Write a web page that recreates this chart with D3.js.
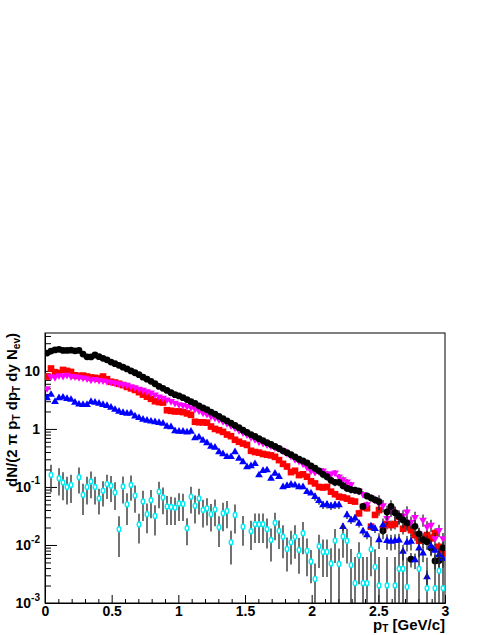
<!DOCTYPE html>
<html>
<head>
<meta charset="utf-8">
<script src="https://cdn.jsdelivr.net/npm/d3@7"></script>
<style>
  body { margin: 0; background: #fff; }
  svg { display: block; font-family: "Liberation Sans", Arial, Helvetica, sans-serif; font-weight: bold; }
</style>
</head>
<body>
<svg id="chart"></svg>
<script>
// histogram: 100 bins of 0.03 GeV/c between 0 and 3
const ptBinWidth = 0.03;
const nBins = 100;
const ptCenters = d3.range(nBins).map((i) => +(ptBinWidth * (i + 0.5)).toFixed(3));

const blackVals = [
  20.3, 22, 23, 23.5, 22.5, 22.5, 22.8, 22.2, 22.5, 19.5,
  17.5, 17.4, 18.8, 17.6, 16.5, 15.5, 14.2, 13.3, 12.5, 11.6,
  10.8, 10, 9.3, 8.6, 7.8, 7.2, 6.6, 6.0, 5.4, 5.0,
  4.6, 4.2, 3.9, 3.7, 3.45, 3.2, 2.95, 2.75, 2.5, 2.3,
  2.15, 1.95, 1.8, 1.65, 1.5, 1.38, 1.26, 1.15, 1.05, 0.95,
  0.87, 0.8, 0.74, 0.68, 0.63, 0.58, 0.54, 0.5, 0.46, 0.42,
  0.39, 0.36, 0.33, 0.3, 0.28, 0.26, 0.23, 0.21, 0.19, 0.165,
  0.15, 0.13, 0.12, 0.12, 0.105, 0.095, 0.09, 0.088, 0.085, 0.046,
  0.07, 0.065, 0.06, 0.056, 0.0175, 0.037, 0.046, 0.036, 0.031, 0.027,
  0.024, 0.0057, 0.021, 0.0155, 0.0124, 0.0114, 0.0089, 0.0053, 0.0054, 0.0089
];

const redVals = [
  8.0, 11, 9.5, 9.2, 10.4, 10, 9.6, 8.4, 8.2, 8.3,
  8.0, 7.7, 7.6, 7.4, 8.0, 7.2, 6.5, 6.3, 6.0, 5.7,
  5.3, 5.0, 4.7, 4.3, 3.9, 3.6, 3.3, 3.0, 2.9, 2.85,
  2.1, 2.05, 2.0, 2.0, 1.95, 1.85, 1.75, 1.33, 1.3, 1.3,
  1.28, 1.1, 1.0, 0.95, 0.89, 0.8, 0.75, 0.65, 0.6, 0.56,
  0.53, 0.42, 0.4, 0.39, 0.37, 0.36, 0.35, 0.33, 0.29, 0.25,
  0.225, 0.18, 0.19, 0.16, 0.165, 0.15, 0.125, 0.115, 0.1, 0.098,
  0.1, 0.083, 0.075, 0.068, 0.066, 0.063, 0.058, 0.056, 0.035, 0.045,
  0.043, 0.0207, 0.033, 0.04, 0.0185, 0.023, 0.022, 0.023, 0.031, 0.019,
  0.023, 0.018, 0.0148, 0.0118, 0.0122, 0.0148, 0.013, 0.016, 0.0093, 0.0072
];

const magentaVals = [
  5.0, 8.0, 7.8, 8.3, 8.2, 8.5, 8.1, 8.0, 7.8, 7.6,
  7.4, 7.0, 7.2, 6.9, 6.8, 6.6, 6.4, 6.2, 6.0, 5.9,
  5.7, 5.4, 5.2, 4.9, 4.7, 4.4, 4.2, 3.9, 3.6, 3.4,
  3.2, 3.0, 2.8, 2.65, 2.55, 2.45, 2.35, 2.2, 2.05, 1.9,
  1.8, 1.65, 1.55, 1.45, 1.35, 1.25, 1.15, 1.05, 0.95, 0.87,
  0.8, 0.72, 0.66, 0.6, 0.57, 0.54, 0.51, 0.48, 0.46, 0.42,
  0.38, 0.34, 0.3, 0.28, 0.25, 0.22, 0.19, 0.18, 0.185, 0.19,
  0.17, 0.165, 0.175, 0.15, 0.135, 0.123, 0.11, 0.089, 0.085, 0.075,
  0.05, 0.065, 0.06, 0.052, 0.048, 0.029, 0.04, 0.036, 0.03, 0.032,
  0.0375, 0.025, 0.03, 0.0155, 0.027, 0.0207, 0.022, 0.013, 0.018, 0.013
];

const blueVals = [
  3.4, 3.9, 2.95, 3.4, 3.5, 3.3, 3.2, 2.85, 2.65, 2.6,
  2.6, 2.95, 2.85, 2.75, 2.6, 2.5, 2.35, 2.15, 2.0, 1.9,
  1.85, 1.86, 1.65, 1.55, 1.45, 1.4, 1.35, 1.32, 1.28, 1.24,
  1.1, 1.08, 0.92, 0.9, 0.9, 0.88, 0.9, 0.7, 0.72, 0.63,
  0.57, 0.5, 0.48, 0.4, 0.37, 0.33, 0.33, 0.4, 0.31, 0.27,
  0.22, 0.23, 0.25, 0.16, 0.19, 0.195, 0.14, 0.17, 0.15, 0.1,
  0.105, 0.11, 0.107, 0.1, 0.1, 0.083, 0.078, 0.068, 0.058, 0.049,
  0.05, 0.047, 0.049, 0.049, 0.0207, 0.033, 0.027, 0.029, 0.0235, 0.0172,
  0.0148, 0.021, 0.019, 0.0122, 0.022, 0.0118, 0.0115, 0.0118, 0.012, 0.0077,
  0.011, 0.0115, 0.0055, 0.0088, 0.0072, 0.0028, 0.0095, 0.008, 0.0068, 0.0058
];

const cyanVals = [
  null, 0.161, null, 0.141, 0.119, 0.1, 0.108, null, 0.147, 0.073,
  0.1, 0.124, 0.1, 0.0635, 0.086, 0.112, 0.105, 0.08, 0.0187, 0.102,
  0.05, 0.108, 0.071, 0.0226, 0.056, 0.034, 0.059, 0.0316, 0.083, 0.066,
  0.046, 0.045, 0.044, 0.052, 0.051, 0.0194, 0.068, 0.0475, 0.0635, 0.04,
  0.0427, 0.034, 0.041, 0.0202, 0.0352, 0.0385, 0.0111, 0.0328, null, 0.0207,
  null, 0.0172, 0.0228, 0.0228, 0.0228, 0.0187, 0.0122, 0.0241, 0.0175, 0.0139,
  0.0085, 0.0111, 0.0138, 0.0082, 0.0159, 0.0079, 0.0052, 0.0026, 0.0095, 0.0076,
  0.0076, 0.0048, 0.0119, 0.0047, 0.014, 0.0118, 0.0045, 0.0022, 0.0066, 0.0022,
  0.0022, 0.0084, 0.0042, 0.002, null, 0.002, null, 0.002, 0.0039, 0.0039,
  0.0019, null, null, 0.0039, null, 0.0018, null, 0.0018, 0.0036, 0.0018
];

const cyanErrs = [
  null, 0.08, null, 0.07, 0.06, 0.05, 0.055, null, 0.07, 0.04,
  0.05, 0.06, 0.05, 0.03, 0.04, 0.05, 0.05, 0.04, 0.0125, 0.05,
  0.028, 0.05, 0.035, 0.012, 0.03, 0.018, 0.03, 0.017, 0.04, 0.032,
  0.024, 0.023, 0.022, 0.026, 0.025, 0.0095, 0.033, 0.024, 0.03, 0.02,
  0.021, 0.017, 0.02, 0.011, 0.018, 0.019, 0.0065, 0.017, null, 0.011,
  null, 0.009, 0.012, 0.012, 0.012, 0.01, 0.007, 0.012, 0.009, 0.008,
  0.005, 0.0065, 0.008, 0.005, 0.009, 0.005, 0.003, 0.0022, 0.0055, 0.0048,
  0.0048, 0.004, 0.007, 0.004, 0.008, 0.007, 0.004, 0.004, 0.0045, 0.004,
  0.004, 0.0055, 0.0042, 0.0042, null, 0.0042, null, 0.0042, 0.0045, 0.0045,
  0.0042, null, null, 0.0045, null, 0.0042, null, 0.0042, 0.0045, 0.0042
];

// relative stat. errors of the four large samples, per pT band
const errBandEdges = [1.5, 2.0, 2.5];
const blackRelErr = [0.02, 0.06, 0.14, 0.28];
const redRelErr = [0.02, 0.05, 0.11, 0.2];
const magentaRelErr = [0.02, 0.05, 0.12, 0.24];
const blueRelErr = [0.03, 0.07, 0.15, 0.3];

const xMajorTicks = [0, 0.5, 1, 1.5, 2, 2.5, 3];
const xTickLabels = ["0", "0.5", "1", "1.5", "2", "2.5", "3"];
const yDecades = [-3, -2, -1, 0, 1];

const width = 491;
const height = 635;
const plotLeft = 45;
const plotRight = 445;
const plotTop = 333;
const plotBottom = 603;

const svg = d3.select("#chart").attr("width", width).attr("height", height);

const xScale = d3.scaleLinear().domain([0, 3]).range([plotLeft, plotRight]);
const yScale = d3.scaleLog().domain([1e-3, 45]).range([plotBottom, plotTop]);

svg.append("defs").append("clipPath").attr("id", "plotClip")
  .append("rect")
  .attr("x", plotLeft).attr("y", plotTop)
  .attr("width", plotRight - plotLeft).attr("height", plotBottom - plotTop);

// ---- axes (ROOT style, ticks inside) ----
const xMinor = d3.range(0, 31).map((i) => i / 10).filter((v) => !xMajorTicks.includes(v));
svg.append("g")
  .attr("transform", "translate(0," + plotBottom + ")")
  .call(d3.axisBottom(xScale).tickValues(xMinor).tickSize(-4).tickSizeOuter(0).tickFormat(""));
svg.append("g")
  .attr("transform", "translate(0," + plotBottom + ")")
  .call(d3.axisBottom(xScale).tickValues(xMajorTicks).tickSize(-8).tickSizeOuter(0).tickPadding(3)
    .tickFormat((d, i) => xTickLabels[i]))
  .call((g) => g.selectAll("text").attr("font-size", 14).attr("fill", "#000")
    .attr("font-family", "Liberation Sans, Arial, sans-serif").attr("font-weight", "bold"));

const yMinor = [];
yDecades.forEach((d) => {
  for (let m = 2; m <= 9; m++) {
    const v = m * Math.pow(10, d);
    if (v <= 45) yMinor.push(v);
  }
});
const yMajor = yDecades.map((d) => Math.pow(10, d));
svg.append("g")
  .attr("transform", "translate(" + plotLeft + ",0)")
  .call(d3.axisLeft(yScale).tickValues(yMinor).tickSize(-6).tickSizeOuter(0).tickFormat(""));
svg.append("g")
  .attr("transform", "translate(" + plotLeft + ",0)")
  .call(d3.axisLeft(yScale).tickValues(yMajor).tickSize(-12).tickSizeOuter(0).tickFormat(""));

svg.selectAll(".tick line, .domain").attr("stroke", "#000");

// y labels: 10^-3 ... 10
const yLabels = svg.append("g").attr("font-size", 14).attr("text-anchor", "end");
yDecades.forEach((d) => {
  const yy = yScale(Math.pow(10, d));
  if (d === 0 || d === 1) {
    yLabels.append("text").attr("x", 40).attr("y", yy).attr("dy", "0.36em")
      .text(d === 0 ? "1" : "10");
  } else {
    const t = yLabels.append("text").attr("x", 40).attr("y", yy).attr("dy", "0.36em");
    t.append("tspan").text("10");
    t.append("tspan").attr("font-size", 10).attr("dy", "-0.75em").text(String(d));
  }
});

// frame
svg.append("rect")
  .attr("x", plotLeft).attr("y", plotTop)
  .attr("width", plotRight - plotLeft).attr("height", plotBottom - plotTop)
  .attr("fill", "none").attr("stroke", "#000").attr("stroke-width", 1);

// ---- data ----
const plot = svg.append("g").attr("clip-path", "url(#plotClip)");

const series = [
  { vals: redVals, rel: redRelErr, color: "#ff0000", shape: "square" },
  { vals: magentaVals, rel: magentaRelErr, color: "#ff00ff", shape: "tridown" },
  { vals: blackVals, rel: blackRelErr, color: "#000000", shape: "circle" },
  { vals: blueVals, rel: blueRelErr, color: "#0000ff", shape: "triup" },
  { vals: cyanVals, errs: cyanErrs, color: "#00eef6", shape: "open" }
];

const drawSeries = (s) => {
  const pts = ptCenters
    .map((pt, i) => ({
      pt: pt,
      v: s.vals[i],
      e: s.errs ? s.errs[i] : (s.vals[i] == null ? 0 : s.vals[i] * s.rel[d3.bisectRight(errBandEdges, pt)])
    }))
    .filter((d) => d.v != null);

  const g = plot.append("g");
  g.selectAll("line")
    .data(pts)
    .join("line")
    .attr("x1", (d) => xScale(d.pt))
    .attr("x2", (d) => xScale(d.pt))
    .attr("y1", (d) => yScale(d.v + d.e))
    .attr("y2", (d) => (d.v - d.e > 1e-5 ? yScale(d.v - d.e) : plotBottom + 5))
    .attr("stroke", "#262626")
    .attr("stroke-width", 1.3);

  if (s.shape === "circle") {
    g.selectAll("circle").data(pts).join("circle")
      .attr("cx", (d) => xScale(d.pt)).attr("cy", (d) => yScale(d.v))
      .attr("r", 3.4).attr("fill", s.color);
  } else if (s.shape === "open") {
    g.selectAll("ellipse").data(pts).join("ellipse")
      .attr("cx", (d) => xScale(d.pt)).attr("cy", (d) => yScale(d.v))
      .attr("rx", 1.8).attr("ry", 2.5)
      .attr("fill", "#fff").attr("stroke", s.color).attr("stroke-width", 1.4);
  } else {
    const sym = s.shape === "square"
      ? d3.symbol().type(d3.symbolSquare).size(44)
      : d3.symbol().type(d3.symbolTriangle).size(26);
    g.selectAll("path.mk").data(pts).join("path")
      .attr("class", "mk")
      .attr("d", sym)
      .attr("transform", (d) => "translate(" + xScale(d.pt) + "," + yScale(d.v) + ")" +
        (s.shape === "tridown" ? " rotate(180)" : ""))
      .attr("fill", s.color);
  }
};

series.forEach(drawSeries);

// ---- axis titles ----
const xTitle = svg.append("text")
  .attr("x", plotRight).attr("y", 630)
  .attr("text-anchor", "end").attr("font-size", 15);
xTitle.append("tspan").text("p");
xTitle.append("tspan").attr("font-size", 10).attr("dy", "0.2em").text("T");
xTitle.append("tspan").attr("dy", "-0.13em").text(" [GeV/c]");

const yTitle = svg.append("text")
  .attr("transform", "translate(17," + plotTop + ") rotate(-90)")
  .attr("text-anchor", "end").attr("font-size", 15);
yTitle.append("tspan").text("dN/(2 π p");
yTitle.append("tspan").attr("font-size", 10).attr("dy", "0.3em").text("T");
yTitle.append("tspan").attr("dy", "-0.2em").text(" dp");
yTitle.append("tspan").attr("font-size", 10).attr("dy", "0.3em").text("T");
yTitle.append("tspan").attr("dy", "-0.2em").text(" dy N");
yTitle.append("tspan").attr("font-size", 10).attr("dy", "0.3em").text("ev");
yTitle.append("tspan").attr("dy", "-0.2em").text(")");
</script>
</body>
</html>
